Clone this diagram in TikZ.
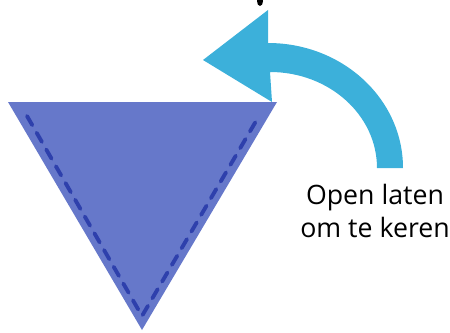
\documentclass[tikz,border=0pt]{standalone}
\usepackage{fontspec}
\setmainfont{Open Sans}
\definecolor{trifill}{RGB}{102,120,202}
\definecolor{tridash}{RGB}{46,64,172}
\definecolor{arrowblue}{RGB}{60,176,218}
\begin{document}
\begin{tikzpicture}[x=0.02cm, y=0.02cm]
  \useasboundingbox (0, 0) rectangle (450, 332);

  % Triangle (upside down)
  \fill[trifill] (8, 230) -- (277, 230) -- (142, 2) -- cycle;
  \draw[tridash, line width=2.2pt, dash pattern=on 6pt off 5pt, line cap=round]
    (27, 216) -- (142, 16) -- (259, 216);

  % Curved turn arrow
  \fill[arrowblue] (268, 322) -- (203, 272) -- (272, 230) -- (270, 260)
    arc[start angle=90, end angle=0, x radius=107, y radius=96]
    -- (403, 164)
    arc[start angle=0, end angle=90, x radius=135, y radius=125]
    -- cycle;

  % Cut-off mark at the top
  \fill (260, 331) ellipse[x radius=3, y radius=5];

  \node[font=\fontsize{15.2}{19.2}\selectfont, align=center, inner sep=0pt]
    (label) at (375, 121) {Open laten\\om te keren};
\end{tikzpicture}
\end{document}
